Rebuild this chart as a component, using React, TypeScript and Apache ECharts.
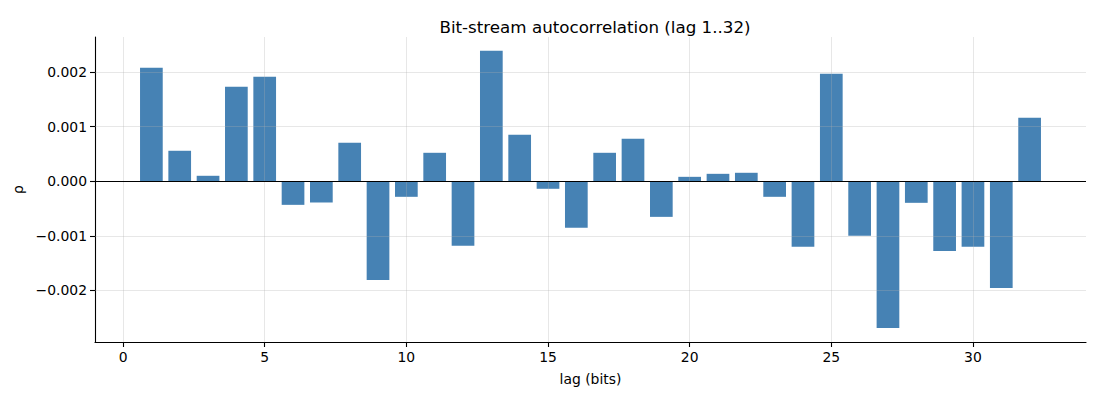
import { useEffect, useRef } from 'react';
import * as echarts from 'echarts';

// lag 1..32
const lags = Array.from({ length: 32 }, (_, i) => i + 1);

// autocorrelation values
const rho = [
  0.002077, 0.000556, 0.000098, 0.001729, 0.001912, -0.000434, -0.000391, 0.000703,
  -0.001808, -0.000287, 0.000519, -0.001185, 0.002389, 0.000849, -0.00014, -0.000855,
  0.000519, 0.000776, -0.000654, 0.000079, 0.000134, 0.000153, -0.000287, -0.001203,
  0.001967, -0.001002, -0.002688, -0.000397, -0.001277, -0.001203, -0.001955, 0.001161,
];

const xTicks = [0, 5, 10, 15, 20, 25, 30];
const yTicks = [-0.002, -0.001, 0, 0.001, 0.002];

const X_MIN = -0.99;
const X_MAX = 33.99;
const Y_MIN = -0.002945;
const Y_MAX = 0.002639;

const FONT = 'DejaVu Sans, sans-serif';
const GRID_COLOR = 'rgba(176,176,176,0.3)';

const fmtY = (v: number) => {
  if (Math.abs(v) < 1e-9) return '0.000';
  return (v < 0 ? '\u2212' : '') + Math.abs(v).toFixed(3);
};

const seg = (a: number[], b: number[], color: string) => [
  { coord: a, lineStyle: { color, width: 1, type: 'solid' as const } },
  { coord: b },
];

export default function App() {
  const chartRef = useRef<HTMLDivElement>(null);

  useEffect(() => {
    if (!chartRef.current) return;
    const chart = echarts.init(chartRef.current, null, { renderer: 'svg' });

    const gridLines = [
      ...xTicks.map((x) => seg([x, Y_MIN], [x, Y_MAX], GRID_COLOR)),
      ...yTicks.filter((y) => y !== 0).map((y) => seg([X_MIN, y], [X_MAX, y], GRID_COLOR)),
      seg([X_MIN, 0], [X_MAX, 0], '#000'),
    ];

    const option: echarts.EChartsOption = {
      animation: false,
      backgroundColor: '#ffffff',
      title: {
        text: 'Bit-stream autocorrelation (lag 1..32)',
        left: 590,
        top: 13,
        textAlign: 'center',
        textStyle: { fontFamily: FONT, fontSize: 16.7, fontWeight: 'normal', color: '#000' },
      },
      grid: { left: 95, right: 14, top: 37, bottom: 58 },
      xAxis: {
        type: 'value',
        min: X_MIN,
        max: X_MAX,
        name: 'lag (bits)',
        nameLocation: 'middle',
        nameGap: 30,
        nameTextStyle: { fontFamily: FONT, fontSize: 13.9, color: '#000' },
        axisLine: { show: true, onZero: false, lineStyle: { color: '#000', width: 1.1 } },
        axisTick: { show: true, length: 5, customValues: xTicks, lineStyle: { color: '#000', width: 1.1 } },
        axisLabel: {
          customValues: xTicks,
          fontFamily: FONT,
          fontSize: 13.9,
          color: '#000',
          margin: 8,
        },
        splitLine: { show: false },
      },
      yAxis: {
        type: 'value',
        min: Y_MIN,
        max: Y_MAX,
        name: 'ρ',
        nameLocation: 'middle',
        nameRotate: 90,
        nameGap: 70,
        nameTextStyle: { fontFamily: FONT, fontSize: 13.9, color: '#000' },
        axisLine: { show: true, onZero: false, lineStyle: { color: '#000', width: 1.1 } },
        axisTick: { show: true, length: 5, customValues: yTicks, lineStyle: { color: '#000', width: 1.1 } },
        axisLabel: {
          customValues: yTicks,
          formatter: (v: number) => fmtY(v),
          fontFamily: FONT,
          fontSize: 13.9,
          color: '#000',
          margin: 8,
        },
        splitLine: { show: false },
      },
      series: [
        {
          type: 'bar',
          data: lags.map((l, i) => [l, rho[i]]),
          barWidth: 22.7,
          itemStyle: { color: '#4682b4' },
          markLine: {
            silent: true,
            symbol: 'none',
            label: { show: false },
            animation: false,
            data: gridLines as any,
          },
        },
      ],
    };

    chart.setOption(option);
    return () => chart.dispose();
  }, []);

  return (
    <div
      ref={chartRef}
      style={{ position: 'fixed', left: 0, top: 0, width: 1100, height: 400 }}
    />
  );
}
